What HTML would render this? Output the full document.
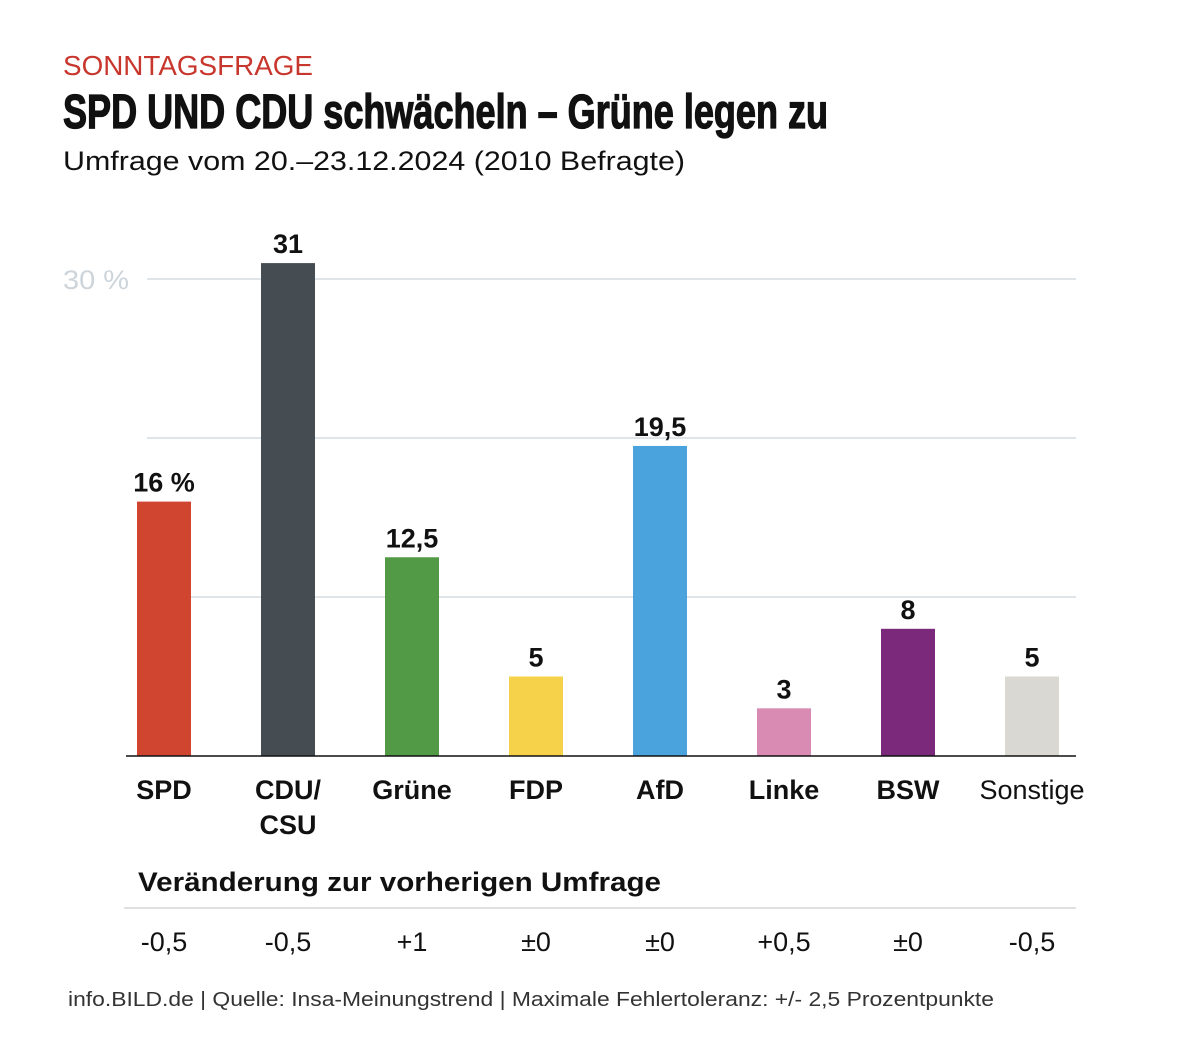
<!DOCTYPE html>
<html><head><meta charset="utf-8"><style>
html,body{margin:0;padding:0;background:#fff;}
svg{display:block;font-family:"Liberation Sans",sans-serif;}
</style></head><body>
<svg id="chart" width="1179" height="1041" viewBox="0 0 1179 1041">
<text x="63" y="75" font-size="28" fill="#c8372d" textLength="250" lengthAdjust="spacingAndGlyphs">SONNTAGSFRAGE</text>
<text x="63" y="128" font-size="48" font-weight="bold" fill="#111" stroke="#111" stroke-width="1.3" textLength="765" lengthAdjust="spacingAndGlyphs">SPD UND CDU schwächeln – Grüne legen zu</text>
<text x="63" y="170" font-size="27" fill="#111" textLength="622" lengthAdjust="spacingAndGlyphs">Umfrage vom 20.–23.12.2024 (2010 Befragte)</text>
<text x="63" y="289" font-size="27" fill="#cdd5db" textLength="66" lengthAdjust="spacingAndGlyphs">30 %</text>
<g id="grid"></g>
<g id="bars"></g>
<line x1="126" x2="1076" y1="756" y2="756" stroke="#111" stroke-width="1.5"/>
<g id="cats"></g>
<text x="138" y="891" font-size="27" font-weight="bold" fill="#111" textLength="523" lengthAdjust="spacingAndGlyphs">Veränderung zur vorherigen Umfrage</text>
<line x1="124" x2="1076" y1="908" y2="908" stroke="#d5d5d5" stroke-width="1.5"/>
<g id="changes"></g>
<text x="68" y="1006" font-size="20" fill="#333" textLength="926" lengthAdjust="spacingAndGlyphs">info.BILD.de | Quelle: Insa-Meinungstrend | Maximale Fehlertoleranz: +/- 2,5 Prozentpunkte</text>
</svg>
<script>
const categories = ["SPD","CDU/|CSU","Grüne","FDP","AfD","Linke","BSW","Sonstige"];
const values = [16,31,12.5,5,19.5,3,8,5];
const valueLabels = ["16 %","31","12,5","5","19,5","3","8","5"];
const changes = ["-0,5","-0,5","+1","±0","±0","+0,5","±0","-0,5"];
const colors = ["#d04530","#454c52","#529a45","#f6d24a","#4aa3dc","#d98bb3","#7b2a7b","#d9d8d3"];
const gridTicks = [10,20,30];
const NS="http://www.w3.org/2000/svg";
const y = v => 756 - v*15.9;
const xc = i => 164 + i*124;
const bw = 54;
function mk(tag, attrs, parent){const e=document.createElementNS(NS,tag);for(const k in attrs)e.setAttribute(k,attrs[k]);document.getElementById(parent).appendChild(e);return e;}
gridTicks.forEach(t=>{
  const l=mk('line',{x1:147,x2:1076,y1:y(t),y2:y(t),stroke:'#d3dbe0','stroke-width':1.5},'grid');
  
  
});
values.forEach((v,i)=>{
  const r=mk('rect',{x:xc(i)-bw/2,y:y(v),width:bw,height:756-y(v),fill:colors[i]},'bars');
  
  
  const t=mk('text',{x:xc(i),y:y(v)-10,'font-size':27,'font-weight':'bold','text-anchor':'middle',fill:'#111'},'bars');
  t.textContent=valueLabels[i];
  
  
});
categories.forEach((c,i)=>{
  c.split('|').forEach((part,j)=>{
    const t=mk('text',{x:xc(i),y:799+j*35,'font-size':27,'font-weight':i===7?'normal':'bold','text-anchor':'middle',fill:'#111'},'cats');
    t.textContent=part;
    
    
  });
});
changes.forEach((c,i)=>{
  const t=mk('text',{x:xc(i),y:951,'font-size':27,'text-anchor':'middle',fill:'#111'},'changes');
  t.textContent=c;
  
  
});
</script>
</body></html>
